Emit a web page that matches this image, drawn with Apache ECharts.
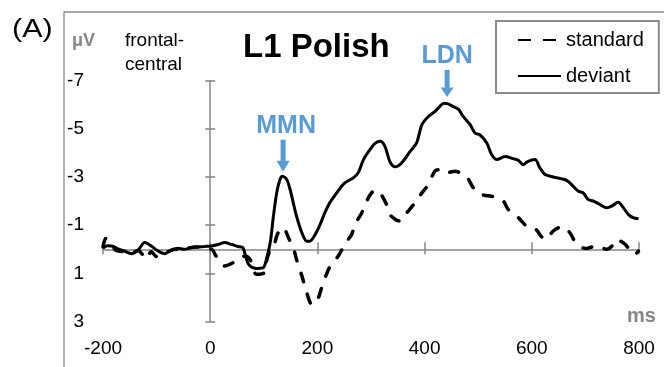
<!DOCTYPE html>
<html>
<head>
<meta charset="utf-8">
<script src="https://cdn.jsdelivr.net/npm/echarts@6/dist/echarts.min.js"></script>
<style>
  html, body { margin: 0; padding: 0; background: #fff; }
  #erp { width: 664px; height: 367px; }
</style>
</head>
<body>
<div id="erp"></div>
<script>
// time (ms) and amplitude (µV), negative is plotted up
var devTime = [-200, -192, -184, -172, -160, -147, -135, -122, -110, -97, -85, -73, -60, -48, -35, -23, -10, 2, 15, 27, 40, 52, 61, 66, 71, 79, 89, 99, 105, 112, 118, 124, 130, 135, 143, 149, 155, 161, 171, 180, 186, 196, 205, 214, 223, 236, 248, 258, 267, 276, 286, 298, 308, 317, 326, 335, 345, 357, 373, 385, 395, 407, 419, 428, 436, 444, 451, 463, 472, 485, 494, 503, 516, 525, 535, 550, 565, 575, 584, 593, 606, 615, 625, 640, 665, 677, 687, 696, 705, 715, 727, 740, 749, 761, 771, 780, 789, 799];
var devUv = [-0.05, -0.15, -0.14, -0.02, 0.07, 0.18, 0.04, -0.28, -0.14, 0.07, 0.18, 0.04, -0.05, 0.0, -0.08, -0.1, -0.12, -0.14, -0.2, -0.28, -0.2, -0.12, -0.07, 0.28, 0.6, 0.76, 0.79, 0.76, 0.41, -0.28, -1.38, -2.34, -2.89, -3.03, -2.89, -2.48, -1.93, -1.38, -0.69, -0.34, -0.34, -0.62, -1.03, -1.52, -1.93, -2.34, -2.69, -2.85, -2.96, -3.17, -3.72, -4.13, -4.4, -4.48, -4.27, -3.65, -3.42, -3.58, -4.06, -4.41, -5.17, -5.51, -5.71, -5.92, -6.06, -6.03, -5.95, -5.81, -5.51, -5.17, -4.82, -4.75, -4.41, -3.93, -3.72, -3.85, -3.76, -3.69, -3.51, -3.65, -3.72, -3.38, -3.1, -3.0, -2.86, -2.62, -2.41, -2.34, -2.07, -2.0, -1.86, -1.72, -1.79, -1.95, -1.72, -1.45, -1.31, -1.27];

var stdTime = [-200, -195, -188, -175, -160, -147, -135, -125, -120, -110, -100, -90, -80, -66, -55, -40, -25, -10, 2, 11, 20, 27, 46, 55, 64, 74, 86, 95, 102, 105, 111, 118, 124, 130, 136, 141, 146, 155, 161, 171, 180, 190, 196, 202, 208, 217, 224, 239, 251, 264, 270, 283, 289, 301, 310, 317, 329, 335, 345, 354, 367, 382, 395, 407, 419, 427, 435, 447, 457, 468, 479, 491, 507, 525, 535, 547, 556, 575, 590, 600, 609, 617, 625, 640, 650, 659, 671, 684, 702, 712, 721, 740, 750, 758, 774, 785, 792, 799];
var stdUv = [-0.1, -0.45, -0.3, 0.05, 0.1, 0.15, 0.05, 0.25, 0.4, 0.1, 0.3, 0.2, 0.1, 0.0, 0.05, -0.05, -0.1, 0.0, 0.0, 0.28, 0.55, 0.69, 0.51, 0.35, 0.28, 0.41, 1.03, 1.02, 0.96, 0.5, 0.07, -0.07, -0.55, -0.8, -0.9, -0.75, -0.48, -0.07, 0.41, 1.1, 1.79, 2.3, 2.2, 2.0, 1.58, 1.03, 0.69, 0.28, -0.21, -0.62, -1.03, -1.52, -1.86, -2.34, -2.45, -2.34, -1.86, -1.45, -1.25, -1.17, -1.52, -1.93, -2.34, -2.69, -3.24, -3.3, -3.17, -3.2, -3.24, -3.15, -3.0, -2.55, -2.27, -2.2, -2.13, -2.0, -1.65, -1.31, -0.96, -0.85, -0.8, -0.55, -0.41, -0.76, -0.9, -0.94, -0.69, -0.21, -0.03, -0.1, -0.14, 0.0, -0.15, -0.41, -0.21, 0.1, 0.21, 0.07];

var yTicks = [-7, -5, -3, -1, 1, 3];
var seriesNames = ['standard', 'deviant'];
var peakLabels = ['MMN', 'LDN'];
var peakTimes = [136, 442];
var peakUv = [-3.22, -6.32];

function pairs(t, v) {
    return t.map(function (x, i) { return [x, v[i]]; });
}

var FONT = 'Liberation Sans';
var GREY = '#868686';
var BLUE = '#5b9bd5';
var arrow = 'path://M4,0 L9,0 L9,21 L13,21 L6.5,32 L0,21 L4,21 Z';

var xBase = { type: 'value', min: -200, max: 800, interval: 200, splitLine: { show: false } };
var yBase = { type: 'value', min: -7, max: 3, inverse: true, splitLine: { show: false } };

option = {
    backgroundColor: '#fff',
    animation: false,
    title: {
        text: 'L1 Polish',
        left: 243,
        top: 31,
        padding: 0,
        textStyle: { fontFamily: FONT, fontSize: 33, fontWeight: 'bold', color: '#000' }
    },
    legend: {
        orient: 'vertical',
        left: 496,
        top: 21,
        padding: [9, 15, 7, 21],
        itemWidth: 43,
        itemHeight: 14,
        itemGap: 16,
        borderColor: '#8a8a8a',
        borderWidth: 2,
        itemStyle: { color: 'rgba(0,0,0,0)', borderWidth: 0 },
        textStyle: { fontFamily: FONT, fontSize: 20, color: '#000' },
        data: [
            { name: seriesNames[0], lineStyle: { type: [13, 12], cap: 'butt' } },
            seriesNames[1]
        ]
    },
    grid: { left: 103, right: 25, top: 80.5, bottom: 45.3 },
    xAxis: [
        Object.assign({}, xBase, {
            position: 'bottom',
            axisLine: { show: false, onZero: false },
            axisTick: { show: false },
            axisLabel: { margin: 18, fontFamily: FONT, fontSize: 19, color: '#000' }
        }),
        Object.assign({}, xBase, {
            position: 'bottom',
            axisLine: { show: true, onZero: true, onZeroAxisIndex: 0, lineStyle: { color: GREY, width: 1.5 } },
            axisTick: { show: true, inside: false, length: 5, lineStyle: { color: GREY, width: 1.5 } },
            axisLabel: { show: false }
        }),
        Object.assign({}, xBase, {
            position: 'bottom',
            axisLine: { show: false, onZero: true, onZeroAxisIndex: 0 },
            axisTick: { show: true, inside: true, length: 7, lineStyle: { color: GREY, width: 1.5 } },
            axisLabel: { show: false }
        })
    ],
    yAxis: [
        Object.assign({}, yBase, {
            position: 'left',
            axisLine: { show: false, onZero: false },
            axisTick: { show: false },
            axisLabel: { margin: 19, customValues: yTicks, fontFamily: FONT, fontSize: 19, color: '#000' }
        }),
        Object.assign({}, yBase, {
            position: 'left',
            axisLine: { show: true, onZero: true, onZeroAxisIndex: 0, lineStyle: { color: GREY, width: 1.5 } },
            axisTick: { show: true, inside: false, length: 5, customValues: yTicks, lineStyle: { color: GREY, width: 1.5 } },
            axisLabel: { show: false }
        }),
        Object.assign({}, yBase, {
            position: 'left',
            axisLine: { show: false, onZero: true, onZeroAxisIndex: 0 },
            axisTick: { show: true, inside: true, length: 5, customValues: yTicks, lineStyle: { color: GREY, width: 1.5 } },
            axisLabel: { show: false }
        })
    ],
    graphic: [
        { type: 'rect', z: -1, shape: { x: 64, y: 12, width: 700, height: 400 }, style: { fill: null, stroke: '#8a8a8a', lineWidth: 1.3 } },
        { type: 'text', x: 12, y: 30.6, scaleX: 1.22, style: { text: '(A)', fontFamily: FONT, fontSize: 25, fill: '#000', verticalAlign: 'middle' } },
        { type: 'text', x: 72, y: 41, style: { text: 'μV', fontFamily: FONT, fontSize: 18, fontWeight: 'bold', fill: GREY, verticalAlign: 'middle' } },
        { type: 'text', x: 125, y: 28.4, style: { text: 'frontal-\ncentral', fontFamily: FONT, fontSize: 19, lineHeight: 24, fill: '#000', verticalAlign: 'top' } },
        { type: 'text', x: 627, y: 316.5, style: { text: 'ms', fontFamily: FONT, fontSize: 20, fontWeight: 'bold', fill: GREY, verticalAlign: 'middle' } }
    ],
    series: [
        {
            name: seriesNames[0],
            type: 'line',
            symbol: 'none',
            smooth: 0.3,
            data: pairs(stdTime, stdUv),
            lineStyle: { color: '#000', width: 3.5, type: [9, 13], cap: 'round' },
            itemStyle: { color: '#000' }
        },
        {
            name: seriesNames[1],
            type: 'line',
            symbol: 'none',
            smooth: 0.3,
            data: pairs(devTime, devUv),
            lineStyle: { color: '#000', width: 3 },
            itemStyle: { color: '#000' },
            markPoint: {
                symbol: arrow,
                symbolSize: [13, 32],
                symbolOffset: [0, '-50%'],
                itemStyle: { color: BLUE },
                label: {
                    show: true,
                    position: 'top',
                    distance: 1,
                    formatter: '{b}',
                    fontFamily: FONT,
                    fontSize: 25,
                    fontWeight: 'bold',
                    color: BLUE
                },
                data: [
                    { name: peakLabels[0], coord: [peakTimes[0], peakUv[0]], label: { offset: [3, 0] } },
                    { name: peakLabels[1], coord: [peakTimes[1], peakUv[1]], symbolSize: [13, 27] }
                ]
            }
        }
    ]
};

var chart = echarts.init(document.getElementById('erp'));
chart.setOption(option);
</script>
</body>
</html>
